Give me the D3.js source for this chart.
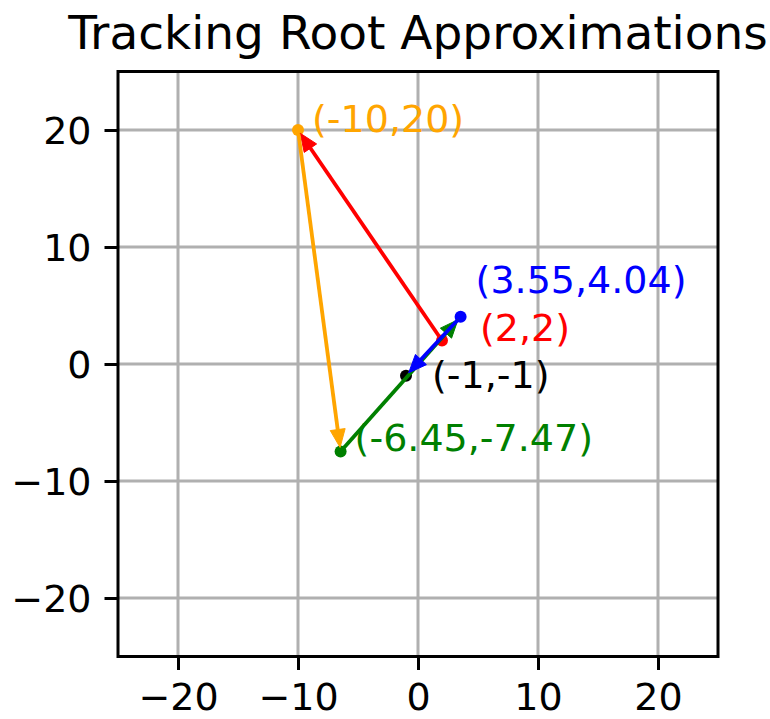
<!DOCTYPE html>
<html>
<head>
<meta charset="utf-8">
<script src="https://cdn.jsdelivr.net/npm/d3@7"></script>
<style>
  html, body { margin: 0; padding: 0; background: #fff; }
  svg { display: block; font-family: "DejaVu Sans", sans-serif; }
</style>
</head>
<body>
<svg id="chart" width="770" height="719"></svg>
<script>
// Successive root approximations, in iteration order
const xs = [2, -10, -6.45, 3.55, -1];
const ys = [2, 20, -7.47, 4.04, -1];
const labels = ["(2,2)", "(-10,20)", "(-6.45,-7.47)", "(3.55,4.04)", "(-1,-1)"];
const colors = ["#ff0000", "#ffa500", "#008000", "#0000ff", "#000000"];
const xTicks = [-20, -10, 0, 10, 20];
const yTicks = [-20, -10, 0, 10, 20];

// label placement relative to each point (pixels)
const labelDx = [38, 14, 14, 15, 26];
const labelDy = [0, 2, 0, -24, 12];

const margin = { left: 118, top: 71.5, right: 52, bottom: 62.5 };
const W = 770, H = 719;
const innerW = W - margin.left - margin.right;
const innerH = H - margin.top - margin.bottom;

const svg = d3.select("#chart");
const g = svg.append("g").attr("transform", `translate(${margin.left},${margin.top})`);

const x = d3.scaleLinear().domain([-25, 25]).range([0, innerW]);
const y = d3.scaleLinear().domain([-25, 25]).range([innerH, 0]);

// grid
g.append("g").selectAll("line").data(xTicks).join("line")
  .attr("x1", d => x(d)).attr("x2", d => x(d))
  .attr("y1", 0).attr("y2", innerH)
  .attr("stroke", "#b0b0b0").attr("stroke-width", 3);
g.append("g").selectAll("line").data(yTicks).join("line")
  .attr("y1", d => y(d)).attr("y2", d => y(d))
  .attr("x1", 0).attr("x2", innerW)
  .attr("stroke", "#b0b0b0").attr("stroke-width", 3);

// axes
const xAxis = g.append("g").attr("transform", `translate(0,${innerH})`)
  .call(d3.axisBottom(x).tickValues(xTicks).tickSize(13.5).tickPadding(12));
const yAxis = g.append("g")
  .call(d3.axisLeft(y).tickValues(yTicks).tickSize(13.5).tickPadding(13));
[xAxis, yAxis].forEach(a => {
  a.select(".domain").remove();
  a.selectAll(".tick line").attr("stroke", "#000").attr("stroke-width", 3);
  a.selectAll(".tick text").attr("fill", "#000")
    .style("font-family", "DejaVu Sans").style("font-size", "38px");
});
xAxis.selectAll(".tick text").attr("dy", "0.74em");
yAxis.selectAll(".tick text").attr("dy", "0.36em");

// frame
g.append("rect").attr("x", 0).attr("y", 0).attr("width", innerW).attr("height", innerH)
  .attr("fill", "none").attr("stroke", "#000").attr("stroke-width", 3);

// points
const pts = xs.map((v, i) => ({ x: v, y: ys[i], label: labels[i], color: colors[i], i }));

g.append("g").selectAll("circle").data(pts).join("circle")
  .attr("cx", d => x(d.x)).attr("cy", d => y(d.y)).attr("r", 6)
  .attr("fill", d => d.color);

// arrows from each approximation to the next one
const shrink = 4, headLen = 18, headHalf = 7.5;
const arrows = g.append("g");
for (let i = 0; i < pts.length - 1; i++) {
  const x0 = x(pts[i].x), y0 = y(pts[i].y);
  const x1 = x(pts[i + 1].x), y1 = y(pts[i + 1].y);
  const dx = x1 - x0, dy = y1 - y0, L = Math.hypot(dx, dy);
  const ux = dx / L, uy = dy / L;
  const sx = x0 + ux * shrink, sy = y0 + uy * shrink;
  const tx = x1 - ux * shrink, ty = y1 - uy * shrink;
  const bx = tx - ux * headLen, by = ty - uy * headLen;
  const col = pts[i].color;
  arrows.append("line")
    .attr("x1", sx).attr("y1", sy).attr("x2", bx + ux * 2).attr("y2", by + uy * 2)
    .attr("stroke", col).attr("stroke-width", 3.8);
  arrows.append("path")
    .attr("d", `M${tx},${ty} L${bx - uy * headHalf},${by + ux * headHalf} L${bx + uy * headHalf},${by - ux * headHalf} Z`)
    .attr("fill", col).attr("stroke", col).attr("stroke-width", 1).attr("stroke-linejoin", "miter");
}

// point labels
g.append("g").selectAll("text").data(pts).join("text")
  .attr("x", d => x(d.x) + labelDx[d.i])
  .attr("y", d => y(d.y) + labelDy[d.i])
  .attr("fill", d => d.color)
  .style("font-size", "38px")
  .text(d => d.label);

// title
svg.append("text")
  .attr("x", margin.left + innerW / 2).attr("y", 49)
  .attr("text-anchor", "middle")
  .style("font-size", "47px")
  .attr("fill", "#000")
  .text("Tracking Root Approximations");
</script>
</body>
</html>
